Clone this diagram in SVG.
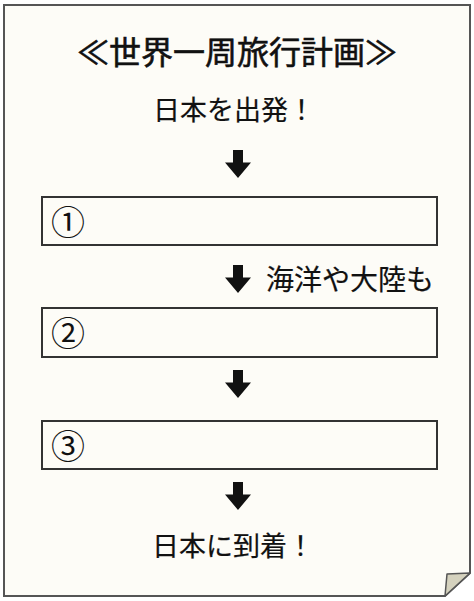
<svg xmlns="http://www.w3.org/2000/svg" width="474" height="601" viewBox="0 0 474 601">
<style>
.t{font-family:"Noto Sans CJK JP","Noto Sans",sans-serif;fill:#111;}
.n{font-family:"Noto Sans CJK JP",sans-serif;fill:#111;font-size:34px;}
.box{fill:#fdfcf7;stroke:#333;stroke-width:2;}
.arr{fill:#111;}
</style>
<defs>
<path id="dn" d="M-5,0 H5 V12.5 H13 L0,28 L-13,12.5 H-5 Z"/>
</defs>
<rect width="474" height="601" fill="#ffffff"/>
<g id="page">
<path d="M4,5 H470 V573 L445,596 H4 Z" fill="#fdfcf7" stroke="#555" stroke-width="2"/>
<path d="M470,573 L447,574 L445,596 Z" fill="#d5d2be" stroke="#555" stroke-width="1.5" stroke-linejoin="round"/>
</g>
<g id="title"><text class="t" x="237" y="64" font-size="32" stroke="#111" stroke-width="0.6" text-anchor="middle">≪世界一周旅行計画≫</text></g>
<g id="start"><text class="t" x="234" y="120" font-size="27" stroke="#111" stroke-width="0.2" text-anchor="middle">日本を出発！</text></g>
<g id="box1"><rect class="box" x="42" y="197" width="395" height="48"/><text class="n" x="51" y="235">①</text></g>
<g id="box2"><rect class="box" x="42" y="308" width="395" height="49"/><text class="n" x="51" y="346">②</text></g>
<g id="box3"><rect class="box" x="42" y="421" width="395" height="48"/><text class="n" x="51" y="459">③</text></g>
<g id="end"><text class="t" x="233" y="556" font-size="27" stroke="#111" stroke-width="0.2" text-anchor="middle">日本に到着！</text></g>
<g id="connectors">
<use href="#dn" class="arr" x="238" y="150"/>
<use href="#dn" class="arr" x="238" y="265"/>
<use href="#dn" class="arr" x="238" y="370"/>
<use href="#dn" class="arr" x="238" y="482"/>
<text class="t" x="266" y="290" font-size="28" stroke="#111" stroke-width="0.2">海洋や大陸も</text>
</g>
</svg>
